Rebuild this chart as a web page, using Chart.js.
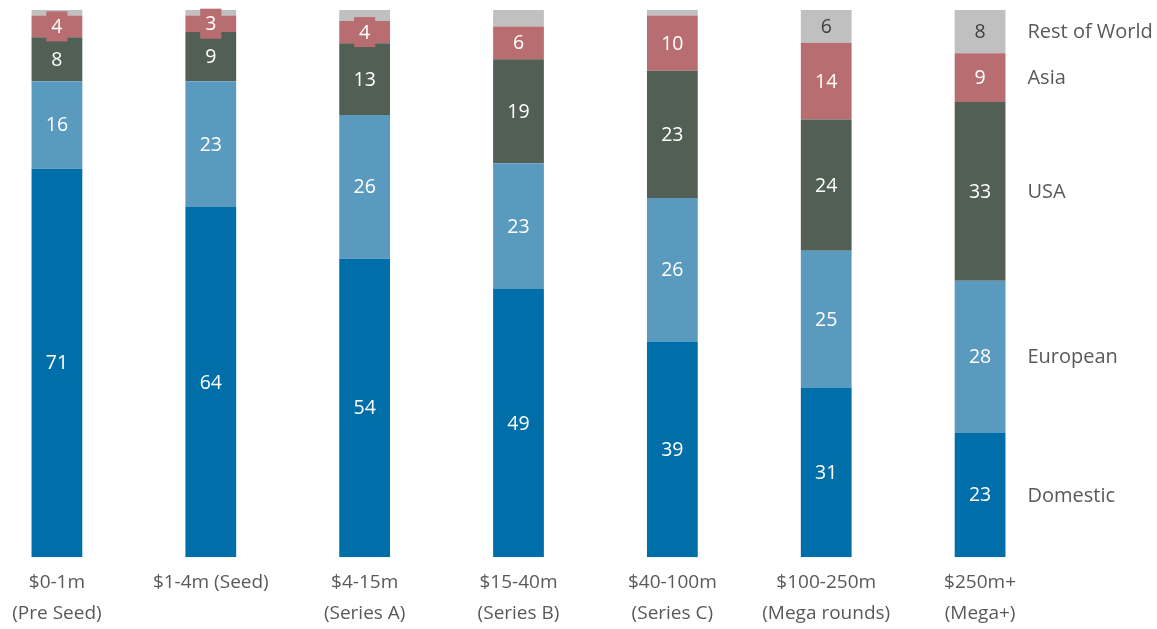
<!DOCTYPE html>
<html>
<head>
<meta charset="utf-8">
<script src="https://cdn.jsdelivr.net/npm/chart.js@4.4.1/dist/chart.umd.min.js"></script>
<style>
  html, body { margin: 0; padding: 0; background: #fff; overflow: hidden; }
  #wrap { position: absolute; left: -20px; top: 0; width: 1177px; height: 629px; }
</style>
</head>
<body>
<div id="wrap"><canvas id="chart"></canvas></div>
<script>
// Rounding stages
const categories = [
    ['$0-1m', '(Pre Seed)'],
    ['$1-4m (Seed)'],
    ['$4-15m', '(Series A)'],
    ['$15-40m', '(Series B)'],
    ['$40-100m', '(Series C)'],
    ['$100-250m', '(Mega rounds)'],
    ['$250m+', '(Mega+)']
];

// Investor origin, % of investors per stage
const domestic    = [71, 64, 54, 49, 39, 31, 23];
const european    = [16, 23, 26, 23, 26, 25, 28];
const usa         = [8, 9, 13, 19, 23, 24, 33];
const asia        = [4, 3, 4, 6, 10, 14, 9];
const restOfWorld = [1, 1, 2, 3, 1, 6, 8];

const seriesNames  = ['Domestic', 'European', 'USA', 'Asia', 'Rest of World'];
const seriesValues = [domestic, european, usa, asia, restOfWorld];
const seriesColors = ['#006ea8', '#5b9abf', '#525f55', '#b86e70', '#c0c0c0'];
const labelColors  = ['#ffffff', '#ffffff', '#ffffff', '#ffffff', '#404040'];

const FONT = "'Open Sans', 'Liberation Sans', sans-serif";

// 100% stacked: every bar is scaled to its own total
const totals = categories.map((c, j) => seriesValues.reduce((s, arr) => s + arr[j], 0));

// Valeurs dans les segments, avec fond de la couleur du segment
const segmentLabels = {
    id: 'segmentLabels',
    afterDatasetsDraw(chart) {
        const ctx = chart.ctx;
        ctx.save();
        ctx.font = '19.5px ' + FONT;
        ctx.textAlign = 'center';
        ctx.textBaseline = 'middle';
        chart.data.datasets.forEach((ds, i) => {
            const meta = chart.getDatasetMeta(i);
            meta.data.forEach((bar, j) => {
                const v = ds.raw[j];
                if (i === 4 && v < 5) return;
                const y = (bar.y + bar.base) / 2;
                const txt = String(v);
                const w = ctx.measureText(txt).width + 10;
                ctx.fillStyle = ds.backgroundColor;
                ctx.fillRect(bar.x - w / 2, y - 15, w, 30);
                ctx.fillStyle = labelColors[i];
                ctx.fillText(txt, bar.x, y + 1);
            });
        });
        ctx.restore();
    }
};

// Noms des séries à droite de la dernière barre
const sideLegend = {
    id: 'sideLegend',
    afterDatasetsDraw(chart) {
        const ctx = chart.ctx;
        ctx.save();
        ctx.font = '20px ' + FONT;
        ctx.textAlign = 'left';
        ctx.textBaseline = 'middle';
        ctx.fillStyle = '#595959';
        chart.data.datasets.forEach((ds, i) => {
            const meta = chart.getDatasetMeta(i);
            const bar = meta.data[meta.data.length - 1];
            ctx.fillText(ds.label, bar.x + bar.width / 2 + 22, (bar.y + bar.base) / 2 + 1);
        });
        ctx.restore();
    }
};

new Chart(document.getElementById('chart'), {
    type: 'bar',
    data: {
        labels: categories,
        datasets: seriesNames.map((name, i) => ({
            label: name,
            raw: seriesValues[i],
            data: seriesValues[i].map((v, j) => v / totals[j] * 100),
            backgroundColor: seriesColors[i],
            borderWidth: 0,
            categoryPercentage: 1,
            barPercentage: 0.33
        }))
    },
    options: {
        responsive: true,
        maintainAspectRatio: false,
        animation: false,
        layout: { padding: { top: 10, right: 100, left: 0, bottom: -10 } },
        plugins: {
            legend: { display: false },
            tooltip: { enabled: false }
        },
        scales: {
            x: {
                stacked: true,
                grid: { display: false, drawTicks: false },
                border: { display: false },
                ticks: {
                    color: '#595959',
                    padding: 9,
                    maxRotation: 0,
                    autoSkip: false,
                    font: { family: FONT, size: 19, lineHeight: 1.68 }
                }
            },
            y: {
                stacked: true,
                display: false,
                min: 0,
                max: 100
            }
        }
    },
    plugins: [segmentLabels, sideLegend]
});
</script>
</body>
</html>
